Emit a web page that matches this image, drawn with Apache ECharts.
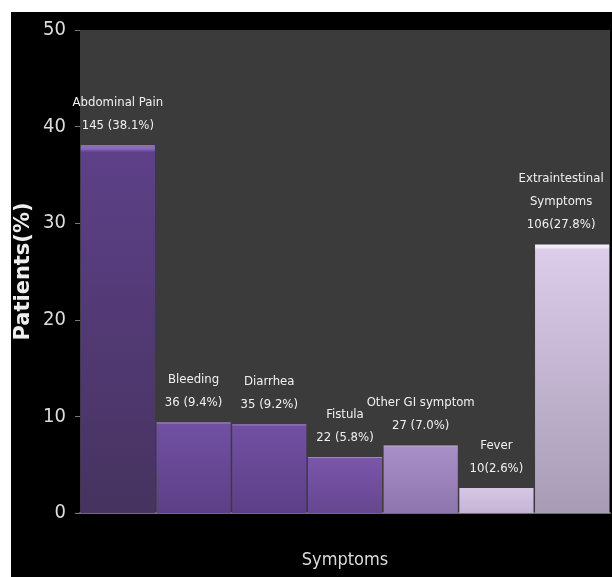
<!DOCTYPE html>
<html>
<head>
<meta charset="utf-8">
<script src="https://cdn.jsdelivr.net/npm/echarts@6/dist/echarts.min.js"></script>
<style>
    body { margin: 0; background: #fff; }
    #barchart {
        position: absolute;
        left: 11px;
        top: 12px;
        width: 601px;
        height: 565px;
        background: #000;
    }
</style>
</head>
<body>
<div id="barchart"></div>
<script>
    // data
    let symptoms = ['Abdominal Pain', 'Bleeding', 'Diarrhea', 'Fistula', 'Other GI symptom', 'Fever', 'Extraintestinal\nSymptoms'];
    let counts = [145, 36, 35, 22, 27, 10, 106];
    let percents = [38.1, 9.4, 9.2, 5.8, 7.0, 2.6, 27.8];
    let yTicks = [0, 10, 20, 30, 40, 50];

    // bar colours: highlight, top, bottom
    let barColors = [
        ['#8a6cb8', '#5d4088', '#46335f'],
        ['#9a7cc6', '#7150a2', '#5d3f87'],
        ['#9a7cc6', '#7150a2', '#5d3f87'],
        ['#a384cc', '#7b55ab', '#65478f'],
        ['#c8b6dc', '#a88fc6', '#8d75ae'],
        ['#f2ecf8', '#d6c8e4', '#c4b3d6'],
        ['#f2ecf8', '#dccdea', '#a79bb5']
    ];
    let narrow = '"DejaVu Sans Condensed", "Liberation Sans Narrow", sans-serif';

    let myChart = echarts.init(document.getElementById('barchart'));
    myChart.setOption({
        backgroundColor: '#000',
        animation: false,
        grid: {
            left: 69,
            right: 2,
            top: 18,
            bottom: 64,
            outerBoundsMode: 'none',
            containLabel: false,
            show: true,
            backgroundColor: '#3b3b3b',
            borderWidth: 0
        },
        xAxis: {
            type: 'category',
            data: symptoms,
            name: 'Symptoms',
            nameLocation: 'middle',
            nameGap: 38,
            nameMoveOverlap: false,
            nameTextStyle: { color: '#dcdcdc', fontSize: 18, fontFamily: narrow },
            axisLine: { lineStyle: { color: '#6e6e6e', width: 2 } },
            axisTick: { show: false },
            axisLabel: { show: false }
        },
        yAxis: {
            type: 'value',
            min: yTicks[0],
            max: yTicks[yTicks.length - 1],
            interval: 10,
            name: 'Patients(%)',
            nameLocation: 'middle',
            nameGap: 46,
            nameMoveOverlap: false,
            nameTextStyle: { color: '#eee', fontSize: 21, fontWeight: 'bold', fontFamily: 'DejaVu Sans, sans-serif' },
            axisLine: { show: false },
            axisTick: { show: true, length: 5, lineStyle: { color: '#777' } },
            axisLabel: { color: '#dcdcdc', fontSize: 20, margin: 14, fontFamily: narrow },
            splitLine: { show: false }
        },
        series: [{
            type: 'bar',
            barCategoryGap: '2%',
            data: percents.map((v, i) => {
                let item = {
                    value: v,
                    itemStyle: {
                        color: new echarts.graphic.LinearGradient(0, 0, 0, 1, [
                            { offset: 0, color: barColors[i][0] },
                            { offset: 0.01, color: barColors[i][0] },
                            { offset: 0.02, color: barColors[i][1] },
                            { offset: 1, color: barColors[i][2] }
                        ])
                    }
                }
                if (i === symptoms.length - 1) {
                    item.label = { offset: [-11, 0] }
                }
                return item
            }),
            label: {
                show: true,
                position: 'top',
                distance: 8,
                color: '#f0f0f0',
                fontSize: 13,
                lineHeight: 23,
                fontFamily: narrow,
                formatter: function (p) {
                    let i = p.dataIndex;
                    let sep = (i === 5 || i === 6) ? '' : ' ';
                    return symptoms[i] + '\n' + counts[i] + sep + '(' + percents[i].toFixed(1) + '%)';
                }
            }
        }]
    });
</script>
</body>
</html>
